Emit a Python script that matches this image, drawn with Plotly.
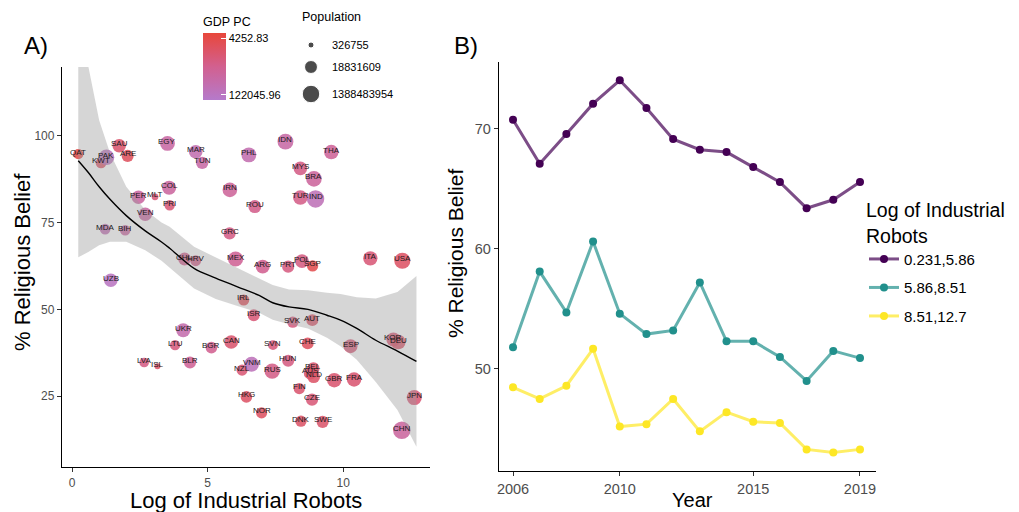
import numpy as np
import plotly.graph_objects as go

FONT = "Liberation Sans, Arial, sans-serif"
W, H = 1019, 512
OFF = 8  # page body margin of the browser

# ---------------- Panel A data ----------------
countries = ["QAT","KWT","PAK","SAU","ARE","EGY","MAR","TUN","PHL","IDN","THA","MYS","BRA","TUR","IND",
             "IRN","ROU","COL","PER","MLT","PRI","VEN","MDA","BIH","GRC","CHL","HRV","MEX","ARG","PRT",
             "POL","SGP","ITA","USA","UZB","IRL","ISR","SVK","AUT","UKR","LTU","BGR","CAN","SVN","CHE",
             "ESP","KOR","DEU","HUN","LVA","ISL","BLR","NZL","VNM","RUS","BEL","AUS","NLD","GBR","FRA",
             "FIN","HKG","CZE","NOR","DNK","SWE","JPN","CHN"]
log_robots = [0.23,1.07,1.27,1.74,2.05,3.52,4.56,4.80,6.52,7.87,9.56,8.42,8.92,8.42,8.98,
              5.82,6.74,3.58,2.45,3.06,3.60,2.70,1.22,1.96,5.81,4.15,4.56,6.03,7.03,7.97,
              8.48,8.87,11.0,12.18,1.43,6.33,6.70,8.14,8.86,4.10,3.80,5.14,5.87,7.41,8.69,
              10.27,11.85,12.03,7.97,2.66,3.15,4.35,6.27,6.62,7.38,8.90,8.79,8.91,9.67,10.40,
              8.38,6.43,8.85,6.99,8.44,9.24,12.62,12.16]
religious = [94.7,92.2,93.8,97.1,94.2,97.8,95.4,92.2,94.5,98.3,95.3,90.6,87.6,82.2,81.8,
             84.4,79.6,85.0,82.3,82.4,80.0,77.4,73.1,72.8,71.9,64.5,64.0,64.5,62.3,62.3,
             63.9,62.5,64.7,64.0,58.4,52.7,48.3,46.3,46.9,44.0,39.7,39.0,40.6,39.7,40.2,
             39.4,41.3,40.6,35.2,34.7,33.6,34.7,32.5,34.2,32.2,33.0,31.7,30.6,29.6,29.8,
             27.2,24.8,24.0,20.2,17.8,17.6,24.6,15.2]
gdp_pc = [122045.96,60000,5000,50000,70000,11500,7500,11000,8000,11000,17000,28000,15000,27000,6000,
          16000,25000,14000,13000,40000,38000,12000,7000,13000,28000,24000,26000,19000,21000,32000,
          30000,100000,40000,62000,4252.83,80000,38000,32000,55000,8500,34000,21000,48000,36000,68000,
          39000,42000,54000,30000,29000,55000,18000,41000,5500,27000,50000,50000,56000,46000,45000,
          47000,60000,38000,65000,56000,52000,41000,14000]
population = [2.5e6,4.0e6,200e6,32e6,9.5e6,95e6,35e6,11.5e6,105e6,260e6,69e6,31e6,207e6,80e6,1.30e9,
              80e6,19.5e6,49e6,32e6,0.45e6,3.3e6,30e6,3.5e6,3.5e6,10.7e6,18e6,4.1e6,125e6,44e6,10.3e6,
              38e6,5.6e6,60e6,327e6,32e6,4.8e6,8.7e6,5.4e6,8.8e6,45e6,2.8e6,7.1e6,37e6,2.1e6,8.5e6,
              46e6,51e6,83e6,9.8e6,1.9e6,326755,9.5e6,4.8e6,95e6,144e6,11.4e6,25e6,17e6,66e6,67e6,
              5.5e6,7.4e6,10.6e6,5.3e6,5.8e6,10e6,126e6,1388483954]

# loess smooth
smooth_x = [0.23,0.6,1.0,1.4,2.0,2.7,3.3,3.6,4.5,5.3,6.1,6.9,7.4,8.0,8.7,9.4,9.9,10.5,11.2,12.0,12.7]
smooth_fit = [92.8,89.4,85.3,81.7,77.0,72.6,69.4,67.6,61.8,59.0,56.5,54.0,51.9,50.7,50.0,48.3,46.9,44.5,41.1,38.0,35.0]
smooth_lo = [65.0,66.5,68.5,69.5,69.5,67.0,64.0,62.0,56.0,53.0,51.0,49.0,47.0,45.7,44.5,41.8,39.4,35.5,29.1,21.0,10.4]
smooth_hi = [122.0,120.0,104.5,95.0,85.3,78.6,75.0,73.8,68.0,65.0,62.0,59.0,57.0,55.7,55.5,54.8,54.4,53.5,53.1,55.0,59.6]

gdp_legend_labels = ["4252.83", "122045.96"]
pop_legend_values = [326755, 18831609, 1388483954]

# ---------------- Panel B data ----------------
years = [2006,2007,2008,2009,2010,2011,2012,2013,2014,2015,2016,2017,2018,2019]
grp_names = ["0.231,5.86", "5.86,8.51", "8.51,12.7"]
grp_low = [70.75,67.08,69.55,72.08,74.03,71.72,69.13,68.25,68.05,66.8,65.55,63.38,64.08,65.55]
grp_mid = [51.8,58.1,54.7,60.6,54.6,52.9,53.2,57.2,52.3,52.3,51.0,49.0,51.5,50.9]
grp_high = [48.47,47.5,48.6,51.67,45.2,45.4,47.5,44.8,46.4,45.6,45.5,43.3,43.05,43.3]
grp_colors = ["#440154", "#21908C", "#FDE725"]

# ---------------- helpers ----------------
lp = np.log(np.array(population, float))
lp_min, lp_max = lp.min(), lp.max()
D0, D1 = 6.0, 17.5
def pop_size(p):
    t = (np.log(np.asarray(p, float)) - lp_min) / (lp_max - lp_min)
    return np.sqrt(D0**2 + t * (D1**2 - D0**2))

lg = np.log10(np.array(gdp_pc, float))
lo_g, hi_g = lg.min(), lg.max()
pad = 0.09 * (hi_g - lo_g)
colorscale = [[0, "#B57ACB"], [0.5, "#D2608F"], [1, "#E8473B"]]

# screen pixel -> paper fraction (compensating the page margin)
def px_x(p): return (p - OFF) / W
def px_y(p): return 1 - (p - OFF) / H

fig = go.Figure()

# points
fig.add_trace(go.Scatter(
    x=log_robots, y=religious, mode="markers", xaxis="x", yaxis="y", showlegend=False,
    marker=dict(size=pop_size(population), color=lg, colorscale=colorscale,
                cmin=lo_g - pad, cmax=hi_g + pad, opacity=0.88, line=dict(width=0),
                colorbar=dict(x=px_x(203), xanchor="left", y=px_y(14), yanchor="top",
                              len=86, lenmode="pixels", thickness=23, thicknessmode="pixels",
                              outlinewidth=0, xpad=0, ypad=0,
                              tickvals=[hi_g, lo_g], ticktext=gdp_legend_labels,
                              ticks="inside", ticklen=5, tickcolor="white", tickwidth=1,
                              tickfont=dict(family=FONT, size=11, color="#000"),
                              title=dict(text="GDP PC", side="top",
                                         font=dict(family=FONT, size=12.5, color="#000")))),
    hoverinfo="skip"))

# confidence band
fig.add_trace(go.Scatter(
    x=smooth_x + smooth_x[::-1], y=smooth_hi + smooth_lo[::-1], xaxis="x", yaxis="y",
    fill="toself", fillcolor="rgba(153,153,153,0.4)", line=dict(width=0), mode="lines",
    showlegend=False, hoverinfo="skip"))
fig.add_trace(go.Scatter(
    x=smooth_x, y=smooth_fit, xaxis="x", yaxis="y", mode="lines",
    line=dict(color="black", width=1.4, shape="spline"), showlegend=False, hoverinfo="skip"))

# population legend (overlay axis in screen pixels)
pop_key_y = [45, 67, 94]
fig.add_trace(go.Scatter(
    x=[311] * 3, y=pop_key_y, xaxis="x3", yaxis="y3", mode="markers", showlegend=False,
    marker=dict(size=pop_size(pop_legend_values), color="black"), hoverinfo="skip"))

# panel B
for name, vals, col in zip(grp_names, [grp_low, grp_mid, grp_high], grp_colors):
    r, g, b = int(col[1:3], 16), int(col[3:5], 16), int(col[5:7], 16)
    fig.add_trace(go.Scatter(
        x=years, y=vals, name=name, xaxis="x2", yaxis="y2", mode="lines+markers",
        legendgroup=name,
        line=dict(color=f"rgba({r},{g},{b},0.7)", width=3),
        marker=dict(color=col, size=8)))

annotations = []
for c, xv, yv in zip(countries, log_robots, religious):
    annotations.append(dict(x=xv, y=yv, xref="x", yref="y", text=c, showarrow=False,
                            xanchor="center", yanchor="middle",
                            yshift=2, font=dict(family=FONT, size=8, color="#1a1a1a")))
for lbl, yy in zip(pop_legend_values, pop_key_y):
    annotations.append(dict(x=px_x(330), y=px_y(yy), xref="paper", yref="paper", text=str(lbl),
                            showarrow=False, xanchor="left", yanchor="middle",
                            font=dict(family=FONT, size=11, color="#000")))

def free_text(text, x, y, size, angle=0, xanchor="center"):
    return dict(x=px_x(x), y=px_y(y), xref="paper", yref="paper", text=text, showarrow=False,
                xanchor=xanchor, yanchor="middle", textangle=angle,
                font=dict(family=FONT, size=size, color="#000"))

annotations += [
    free_text("Population", 300, 17, 12.5, xanchor="left"),
    free_text("A)", 36, 45, 24),
    free_text("B)", 466, 45, 24),
    free_text("% Religious Belief", 22, 262, 22, angle=-90),
    free_text("Log of Industrial Robots", 246, 500, 22),
    free_text("% Religious Belief", 455, 254, 21, angle=-90),
    free_text("Year", 692, 500, 20),
]

axis_common = dict(showgrid=False, zeroline=False, showline=True, linecolor="black", linewidth=1.3,
                   ticks="outside", ticklen=4, tickwidth=1, tickcolor="#333")

fig.update_layout(
    width=W, height=H, margin=dict(l=0, r=0, t=0, b=0, autoexpand=False),
    paper_bgcolor="white", plot_bgcolor="rgba(0,0,0,0)",
    font=dict(family=FONT),
    xaxis=dict(domain=[px_x(62), px_x(430)], range=[-0.37, 13.2], anchor="y",
               tickvals=[0, 5, 10], tickfont=dict(size=12, color="#4D4D4D"), **axis_common),
    yaxis=dict(domain=[px_y(467), px_y(67)], range=[4.6, 119.8], anchor="x",
               tickvals=[25, 50, 75, 100], tickfont=dict(size=12, color="#4D4D4D"), **axis_common),
    xaxis2=dict(domain=[px_x(499), px_x(876)], range=[2005.475, 2019.6], anchor="y2",
                tickvals=[2006, 2010, 2015, 2019], tickfont=dict(size=14.5, color="#4D4D4D"),
                **axis_common),
    yaxis2=dict(domain=[px_y(471), px_y(62)], range=[41.5, 75.55], anchor="x2",
                tickvals=[50, 60, 70], tickfont=dict(size=14.5, color="#4D4D4D"), **axis_common),
    xaxis3=dict(domain=[0, 1], range=[OFF, W + OFF], visible=False, anchor="y3", fixedrange=True),
    yaxis3=dict(domain=[0, 1], range=[H + OFF, OFF], visible=False, anchor="x3", fixedrange=True),
    legend=dict(x=px_x(864), y=px_y(192), xanchor="left", yanchor="top",
                title=dict(text="Log of Industrial<br>Robots", font=dict(family=FONT, size=19.5, color="#000")),
                font=dict(family=FONT, size=15, color="#000"), bgcolor="rgba(0,0,0,0)",
                tracegroupgap=6, itemwidth=30),
    annotations=annotations,
)

fig.write_html("out.html")
